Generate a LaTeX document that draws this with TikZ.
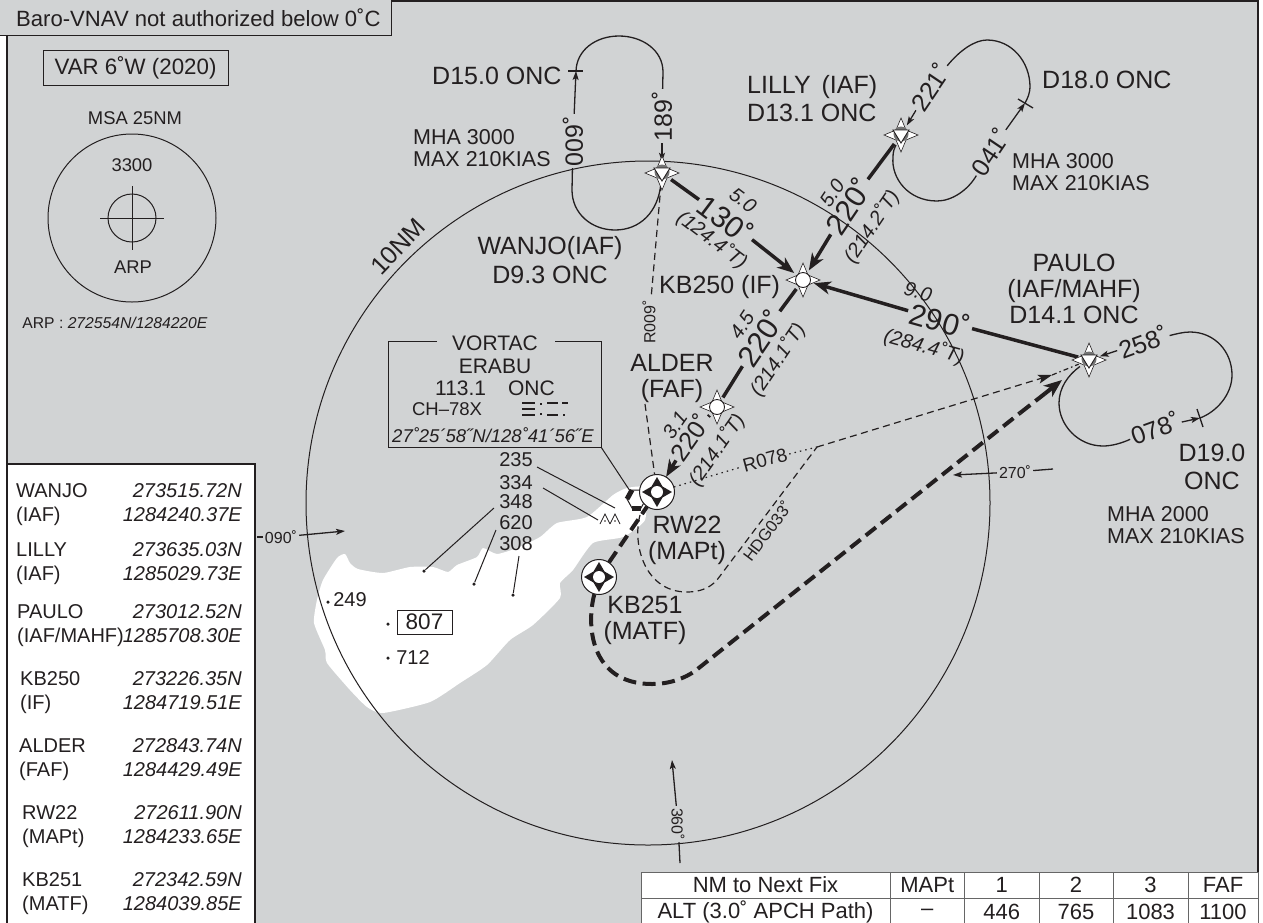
\documentclass[tikz,border=0pt]{standalone}
\usepackage{fontspec}
\setmainfont{Liberation Sans}
\usepackage{tikz}
\usetikzlibrary{arrows.meta}
\definecolor{chartgrey}{HTML}{D1D3D4}
\definecolor{chartink}{HTML}{231F20}

\begin{document}
\begin{tikzpicture}
	[x=1pt,y=-1pt,color=chartink,text=chartink,
	% STYLES
	% fixes and their symbols
	fixpt/.style={circle,inner sep=0pt,minimum size=22pt},
	vorpt/.style={circle,inner sep=0pt,minimum size=35pt},
	pics/fixstar/.style={code={
		\draw[fill=white,line width=.6pt] (0pt,-17pt)--(5pt,-5pt)--(17pt,0pt)--(5pt,5pt)--(0pt,17pt)--(-5pt,5pt)--(-17pt,0pt)--(-5pt,-5pt)--cycle;}},
	pics/iaffix/.style={code={
		\pic {fixstar};
		\fill[black!55] (0pt,1pt) circle[radius=7.5pt];
		\draw[fill=white,line width=.9pt] (0pt,-8pt)--(8pt,5pt)--(-8pt,5pt)--cycle;}},
	pics/roundfix/.style={code={
		\pic {fixstar};
		\draw[fill=white,line width=.9pt] (0pt,0pt) circle[radius=7.5pt];}},
	pics/vorfix/.style={code={
		\draw[fill=white,line width=1pt] (0pt,0pt) circle[radius=17.5pt];
		\fill[chartink] (0pt,-15pt)--(5.5pt,-5.5pt)--(15pt,0pt)--(5.5pt,5.5pt)--(0pt,15pt)--(-5.5pt,5.5pt)--(-15pt,0pt)--(-5.5pt,-5.5pt)--cycle;
		\fill[white] (0pt,0pt) circle[radius=6pt];}},
	% texts on the chart
	fixlabel/.style={align=center,inner sep=0pt,font=\fontsize{25}{26}\selectfont},
	notelabel/.style={align=left,anchor=west,inner sep=0pt,font=\fontsize{21.5}{22}\selectfont},
	course/.style={inner sep=3pt,font=\fontsize{30}{32}\selectfont},
	coursesmall/.style={inner sep=2pt,font=\fontsize{25}{26}\selectfont},
	holdcourse/.style={inner sep=2pt,font=\fontsize{25}{26}\selectfont},
	dist/.style={inner sep=0pt,font=\itshape\fontsize{20}{22}\selectfont},
	elev/.style={inner sep=0pt,font=\fontsize{20}{21}\selectfont},
	radial/.style={inner sep=2pt,font=\fontsize{16}{17}\selectfont},
	spotpt/.style={circle,fill=chartink,inner sep=0pt,minimum size=3.5pt},
	% lines
	leg/.style={line width=3.5pt,>={Stealth[length=17pt,width=13pt,inset=5pt]}},
	hold/.style={line width=1.3pt,>={Stealth[length=9pt,width=6pt,inset=2pt]}},
	thin/.style={line width=1pt},
	missed/.style={line width=4pt,dash pattern=on 13pt off 6.5pt},
	track/.style={line width=1.2pt,dash pattern=on 7pt off 4.5pt,>={Stealth[length=14pt,width=9pt,inset=3pt]}},
	% side panels
	namecell/.style={align=left,anchor=west,inner sep=0pt,font=\fontsize{20}{24}\selectfont},
	coordcell/.style={align=right,anchor=east,inner sep=0pt,font=\itshape\fontsize{20}{24}\selectfont},
	tablecell/.style={draw=black!60,line width=1pt,fill=white,inner sep=0pt,font=\fontsize{22}{23}\selectfont}]

	\useasboundingbox (0,0) rectangle (1263,922);
	\fill[white] (0,0) rectangle (1263,922);

	% Draw background and island
	\draw[line width=1.5pt,fill=chartgrey] (7,1) rectangle (1258,930);
	\fill[white] plot[smooth cycle,tension=.35] coordinates {(345,554) (350,563) (358,569) (383,573) (410,567) (433,567) (448,572) (457,565) (477,557) (483,548) (497,554) (517,548) (540,537) (557,523) (587,517) (613,495) (627,488) (645,488) (645,520) (623,537) (593,543) (573,570) (560,583) (560,598) (533,625) (510,640) (487,665) (460,683) (430,702) (383,713) (367,707) (350,690) (327,663) (325,650) (314,623) (317,600) (323,580) (337,558)};
	\draw[thin] (648,503) circle[radius=342pt];

	% Draw fixes
	\node [fixpt] (wanjo) at (662,173) {};
	\node [fixpt] (lilly) at (901,135) {};
	\node [fixpt] (paulo) at (1089,360) {};
	\node [fixpt] (kb250) at (803,280) {};
	\node [fixpt] (alder) at (717,407) {};
	\node [vorpt] (rw22) at (657,492) {};
	\node [vorpt] (kb251) at (599,577) {};

	% Draw the labels of the legs
	\node [course,rotate=-37] (crs130) at (726,219) {130˚};
	\node [course,rotate=56] (crs220a) at (848,206) {220˚};
	\node [course,rotate=56] (crs220b) at (760,338) {220˚};
	\node [coursesmall,rotate=55] (crs220c) at (690,437) {220˚};
	\node [course,rotate=-15.6] (crs290) at (940,320) {290˚};
	\node [dist,rotate=-37] (dist130) at (743,200) {5.0};
	\node [dist,rotate=56] (dist220a) at (832,193) {5.0};
	\node [dist,rotate=56] (dist220b) at (742,325) {4.5};
	\node [dist,rotate=55] (dist220c) at (675,425) {3.1};
	\node [dist,rotate=-15.6] (dist290) at (918,292) {9.0};
	\node [dist,rotate=-37] (true130) at (712,240) {(124.4˚T)};
	\node [dist,rotate=56] (true220a) at (872,227) {(214.2˚T)};
	\node [dist,rotate=56] (true220b) at (778,360) {(214.1˚T)};
	\node [dist,rotate=55] (true220c) at (717,450) {(214.1˚T)};
	\node [dist,rotate=-15.6] (true290) at (924,347) {(284.4˚T)};

	% Draw the holding labels
	\node [holdcourse,rotate=90] (hold009) at (573,141) {009˚};
	\node [holdcourse,rotate=90] (hold189) at (662,116) {189˚};
	\node [holdcourse,rotate=56] (hold221) at (930,87) {221˚};
	\node [holdcourse,rotate=56] (hold041) at (990,152) {041˚};
	\node [holdcourse,rotate=20] (hold258) at (1143,342) {258˚};
	\node [holdcourse,rotate=20] (hold078) at (1155,428) {078˚};

	% Draw the holdings
	\coordinate (tickwanjo) at (576,71);
	\coordinate (ticklilly) at (1025,103);
	\coordinate (tickpaulo) at (1200,418);
	\draw[hold] (hold189) -- (663,72) .. controls (663,50) and (642,36) .. (619,36) .. controls (596,36) and (576,50) .. (576,72);
	\draw[hold,->] (hold009) -- (tickwanjo);
	\draw[hold] (568,71) -- (583,71);
	\draw[hold] (hold009) -- (572,190) .. controls (572,214) and (592,230) .. (615,230) .. controls (640,230) and (658,212) .. (wanjo);
	\draw[hold,->] (hold189) -- (wanjo);
	\draw[hold] (hold221) .. controls (960,50) and (975,40) .. (987,40) .. controls (1012,40) and (1030,62) .. (1030,87) .. controls (1030,92) and (1028,98) .. (ticklilly);
	\draw[hold,->] (hold221) -- (lilly);
	\draw[hold,->] (hold041) -- (ticklilly);
	\draw[hold] (1018,99) -- (1033,108);
	\draw[hold] (hold041) .. controls (968,190) and (952,201) .. (937,201) .. controls (908,201) and (891,178) .. (893,157) .. controls (893,152) and (894,149) .. (lilly);
	\draw[hold,->] (hold258) -- (paulo);
	\draw[hold] (hold258) .. controls (1176,334) and (1183,332) .. (1190,332) .. controls (1215,332) and (1232,352) .. (1232,375) .. controls (1232,395) and (1216,412) .. (tickpaulo);
	\draw[hold,->] (hold078) -- (tickpaulo);
	\draw[hold] (1197,409) -- (1203,427);
	\draw[hold] (hold078) .. controls (1122,443) and (1112,446) .. (1103,446) .. controls (1078,446) and (1059,425) .. (1059,403) .. controls (1059,388) and (1068,375) .. (paulo);

	% Draw the tracks
	\node [radial,rotate=90] (r009) at (649,322) {R009˚};
	\node [radial,font=\fontsize{19}{20}\selectfont,rotate=15] (r078) at (765,460) {R078};
	\node [radial,font=\fontsize{16.5}{17}\selectfont,rotate=53,inner sep=0pt] (hdg033) at (767,531) {HDG033˚};
	\coordinate (r009low) at (645,404);
	\coordinate (r078turn) at (817,447);
	\coordinate (r078tip) at (1052,375);
	\coordinate (mapturn) at (640,515);
	\coordinate (missedtip) at (1062,380);
	\draw[track] (wanjo) -- (r009);
	\draw[track] (r009low) -- (rw22);
	\draw[line width=1.2pt,dash pattern=on 1.5pt off 4pt] (rw22) -- (r078);
	\draw[line width=1.2pt,dash pattern=on 1.5pt off 4pt] (r078) -- (r078turn);
	\draw[track,->] (r078turn) -- (r078tip);
	\draw[line width=1.2pt,dash pattern=on 5pt off 3pt on 1.5pt off 3pt] (r078tip) -- (paulo);
	\draw[track] (mapturn) .. controls (632,545) and (645,592) .. (687,592) .. controls (700,592) and (712,588) .. (720,576) -- (r078turn);
	\draw[missed] (kb251) .. controls (586,625) and (590,684) .. (652,684) .. controls (670,684) and (685,678) .. (695,671) -- (1020,413);
	\draw[line width=4pt,>={Stealth[length=18pt,width=14pt,inset=5pt]},->] (1045,393.5) -- (missedtip);
	\draw[missed] (1020,413) -- (1045,393.5);

	% Draw the VORTAC box
	\coordinate (boxcorner) at (601,447);
	\coordinate (vortac) at (636,500);
	\draw[thin] (437,341) -| (388,447) -- (boxcorner) |- (555,341);
	\draw[thin] (boxcorner) -- (vortac);
	\draw[thin,fill=white] (627,499) -- (632,490) -- (641,490) -- (646,499) -- (641,508) -- (632,508) -- cycle;
	\draw[line width=5pt] (627,499) -- (632,490);
	\draw[line width=5pt] (632,508) -- (641,508);
	\draw[missed] (kb251) -- (rw22);

	% Draw the legs
	\draw[leg] (wanjo) -- (crs130);
	\draw[leg,->] (crs130) -- (kb250);
	\draw[leg] (lilly) -- (crs220a);
	\draw[leg,->] (crs220a) -- (kb250);
	\draw[leg] (kb250) -- (crs220b);
	\draw[leg] (crs220b) -- (alder);
	\draw[leg] (alder) -- (crs220c);
	\draw[leg,->] (crs220c) -- (rw22);
	\draw[leg] (paulo) -- (crs290);
	\draw[leg,->] (crs290) -- (kb250);

	% Draw the symbols
	\pic at (wanjo) {iaffix};
	\pic at (lilly) {iaffix};
	\pic at (paulo) {iaffix};
	\pic at (kb250) {roundfix};
	\pic at (alder) {roundfix};
	\pic at (rw22) {vorfix};
	\pic at (kb251) {vorfix};

	% Draw the names of the fixes
	\node [fixlabel] (wanjoname) at (550,260) {WANJO(IAF)\\[3pt]D9.3 ONC};
	\node [fixlabel,align=left,anchor=west] (lillyname) at (747,99) {LILLY\hspace{4pt} (IAF)\\[2pt]D13.1 ONC};
	\node [fixlabel] (pauloname) at (1074,289) {PAULO\\(IAF/MAHF)\\D14.1 ONC};
	\node [fixlabel,anchor=west] (kb250name) at (659,287) {KB250 (IF)};
	\node [fixlabel] (aldername) at (672,378) {ALDER\\(FAF)};
	\node [fixlabel] (rw22name) at (687,540) {RW22\\(MAPt)};
	\node [fixlabel] (kb251name) at (645,620) {KB251\\(MATF)};
	\node [fixlabel,anchor=west] (d15) at (432,76) {D15.0 ONC};
	\node [fixlabel,anchor=west] (d18) at (1042,80) {D18.0 ONC};
	\node [fixlabel] (d19) at (1212,467) {D19.0\\[2pt]ONC};
	\node [fixlabel,rotate=46] (tennm) at (398,247) {10NM};
	\node [notelabel] (holdwanjo) at (413,148) {MHA 3000\\MAX 210KIAS};
	\node [notelabel] (holdlilly) at (1012,172) {MHA 3000\\MAX 210KIAS};
	\node [notelabel] (holdpaulo) at (1107,525) {MHA 2000\\MAX 210KIAS};

	% Bearings
	\node [radial] (brg090) at (281,537) {090˚};
	\coordinate (brg090in) at (345,531);
	\coordinate (brg090out) at (257,537);
	\draw[hold,->] (brg090) -- (brg090in);
	\draw[hold] (brg090) -- (brg090out);
	\node [radial] (brg270) at (1015,472) {270˚};
	\coordinate (brg270in) at (953,475);
	\coordinate (brg270out) at (1053,469);
	\draw[hold,->] (brg270) -- (brg270in);
	\draw[hold] (brg270) -- (brg270out);
	\node [radial,rotate=-90] (brg360) at (678,824) {360˚};
	\coordinate (brg360in) at (672,760);
	\coordinate (brg360out) at (680,863);
	\draw[hold,->] (brg360) -- (brg360in);
	\draw[hold] (brg360) -- (brg360out);

	% VORTAC data
	\node [inner sep=0pt,font=\fontsize{21}{22.5}\selectfont,align=center] (vorname) at (495,366) {VORTAC\\ERABU\\113.1\hspace{22pt}ONC};
	\node [inner sep=0pt,font=\fontsize{18.5}{20}\selectfont] (vorch) at (447,409) {CH–78X};
	\node [inner sep=0pt,font=\itshape\fontsize{18.5}{20}\selectfont] (vorpos) at (493,435) {27˚25´58˝N/128˚41´56˝E};
	% morse
	\draw[line width=1.6pt] (522,403) -- (535,403) (522,409) -- (535,409) (522,415) -- (535,415);
	\draw[line width=2pt] (540,404) -- (542,404) (540,414) -- (542,414);
	\draw[line width=1.6pt] (547,403) -- (558,403) (547,415) -- (558,415) (562,403) -- (568,403);
	\draw[line width=2pt] (563,415) -- (565,415);

	% Elevations
	\node [elev] (elev235) at (516,460) {235};
	\node [elev] (elev334) at (516,483) {334};
	\node [elev] (elev348) at (516,502) {348};
	\node [elev] (elev620) at (516,523) {620};
	\node [elev] (elev308) at (516,544) {308};
	\node [elev] (elev249) at (350,600) {249};
	\node [elev,font=\fontsize{22.5}{23}\selectfont,draw,thin,minimum width=55pt,minimum height=24pt] (elev807) at (424.5,622) {807};
	\node [elev] (elev712) at (413,658) {712};
	\node [spotpt] (spot348) at (424,571) {};
	\node [spotpt] (spot620) at (474,584) {};
	\node [spotpt] (spot308) at (513,595) {};
	\node [spotpt] (spot249) at (328,602) {};
	\node [spotpt] (spot807) at (388,624) {};
	\node [spotpt] (spot712) at (388,658) {};
	\coordinate (peak235) at (615,508);
	\coordinate (peak334) at (598,520);
	\draw[thin] (elev235) ++(21,7) -- (peak235);
	\draw[thin] (elev334) ++(27,5) -- (peak334);
	\draw[thin] (494,508) -- (spot348);
	\draw[thin] (496,530) -- (spot620);
	\draw[thin] (519,556) -- (spot308);
	\draw[line width=.8pt] (600,524) -- (605,514) -- (610,524) (610,524) -- (615,514) -- (620,524);
	\fill (605,521) circle[radius=.9pt] (615,521) circle[radius=.9pt];

	% MSA
	\draw[thin,fill=chartgrey] (-2,-2) rectangle (391,35);
	\node [inner sep=0pt,anchor=west,font=\fontsize{22.1}{23}\selectfont] (baro) at (16,18) {Baro-VNAV not authorized below 0˚C};
	\node [draw,thin,minimum width=185pt,minimum height=35pt,inner sep=0pt,font=\fontsize{22.3}{23}\selectfont] (var) at (135.5,68) {VAR 6˚W (2020)};
	\coordinate (arp) at (132,218);
	\node [elev,font=\fontsize{18.4}{19}\selectfont] (msaname) at (135,118) {MSA 25NM};
	\node [elev,font=\fontsize{18.4}{19}\selectfont] (msaalt) at (132,165) {3300};
	\node [elev,font=\fontsize{18.4}{19}\selectfont] (arpname) at (133,267) {ARP};
	\node [elev,font=\fontsize{15.7}{17}\selectfont] (arppos) at (115,323) {ARP : \textit{272554N/1284220E}};
	\draw[thin] (arp) circle[radius=84pt];
	\draw[thin] (arp) circle[radius=24pt];
	\draw[thin] (arp) ++(-32,0) -- ++(64,0);
	\draw[thin] (arp) ++(0,-32) -- ++(0,64);

	% Fix list
	\draw[line width=1.2pt,fill=white] (7,464) rectangle (255,930);
	\node [namecell] (listwanjo) at (16,505) {WANJO\\(IAF)};
	\node [coordcell] (posewanjo) at (242,503) {273515.72N\\1284240.37E};
	\node [namecell] (listlilly) at (16,564) {LILLY\\(IAF)};
	\node [coordcell] (poselilly) at (242,562) {273635.03N\\1285029.73E};
	\node [namecell] (listpaulo) at (17,626) {PAULO\\(IAF/MAHF)};
	\node [coordcell] (posepaulo) at (242,624) {273012.52N\\1285708.30E};
	\node [namecell] (listkb250) at (20,693) {KB250\\(IF)};
	\node [coordcell] (posekb250) at (242,691) {273226.35N\\1284719.51E};
	\node [namecell] (listalder) at (19,760) {ALDER\\(FAF)};
	\node [coordcell] (posealder) at (242,758) {272843.74N\\1284429.49E};
	\node [namecell] (listrw22) at (22,827) {RW22\\(MAPt)};
	\node [coordcell] (poserw22) at (242,825) {272611.90N\\1284233.65E};
	\node [namecell] (listkb251) at (22,894) {KB251\\(MATF)};
	\node [coordcell] (posekb251) at (242,892) {272342.59N\\1284039.85E};

	% Table
	\node [tablecell,minimum width=249pt,minimum height=26pt] (tabnm) at (765.5,885) {NM to Next Fix};
	\node [tablecell,minimum width=74.5pt,minimum height=26pt] (tabmapt) at (927.25,885) {MAPt};
	\node [tablecell,minimum width=74.5pt,minimum height=26pt] (tabone) at (1001.75,885) {1};
	\node [tablecell,minimum width=74pt,minimum height=26pt] (tabtwo) at (1076,885) {2};
	\node [tablecell,minimum width=75pt,minimum height=26pt] (tabthree) at (1150.5,885) {3};
	\node [tablecell,minimum width=70pt,minimum height=26pt] (tabfaf) at (1223,885) {FAF};
	\node [tablecell,minimum width=249pt,minimum height=28pt] (tabalt) at (765.5,912) {ALT (3.0˚ APCH Path)};
	\node [tablecell,minimum width=74.5pt,minimum height=28pt] (altmapt) at (927.25,912) {–};
	\node [tablecell,minimum width=74.5pt,minimum height=28pt] (altone) at (1001.75,912) {446};
	\node [tablecell,minimum width=74pt,minimum height=28pt] (alttwo) at (1076,912) {765};
	\node [tablecell,minimum width=75pt,minimum height=28pt] (altthree) at (1150.5,912) {1083};
	\node [tablecell,minimum width=70pt,minimum height=28pt] (altfaf) at (1223,912) {1100};
\end{tikzpicture}
\end{document}
